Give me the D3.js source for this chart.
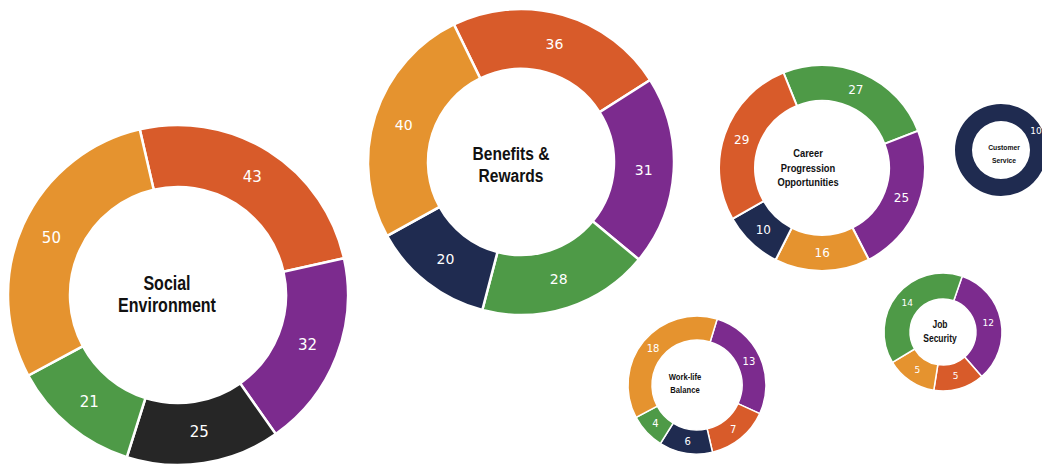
<!DOCTYPE html>
<html>
<head>
<meta charset="utf-8">
<script src="https://cdn.jsdelivr.net/npm/d3@7"></script>
<style>
  html, body { margin: 0; padding: 0; background: #ffffff; }
  svg { display: block; }
  .title { font-family: "Liberation Sans", Arial, sans-serif; font-weight: bold; fill: #111; }
  .value { font-family: "DejaVu Sans", "Open Sans", sans-serif; fill: #ffffff; }
</style>
</head>
<body>
<svg id="chart" width="1042" height="465"></svg>
<script>
// Segment colour keys, shared by every ring
const groups = ["orange", "red", "purple", "black", "green", "navy"];
const groupColors = ["#E5932F", "#D85B2A", "#7C2B8E", "#262626", "#4E9A47", "#1F2B50"];

// Theme titles (one ring per theme)
const themes = ["Social Environment", "Benefits & Rewards", "Career Progression Opportunities",
                "Customer Service", "Work-life Balance", "Job Security"];
const themeLines = [["Social", "Environment"], ["Benefits &", "Rewards"], ["Career", "Progression", "Opportunities"],
                    ["Customer", "Service"], ["Work-life", "Balance"], ["Job", "Security"]];

// Mention counts per theme, clockwise
const socialKeys     = ["red", "purple", "black", "green", "orange"];
const socialValues   = [43, 32, 25, 21, 50];
const benefitsKeys   = ["red", "purple", "green", "navy", "orange"];
const benefitsValues = [36, 31, 28, 20, 40];
const careerKeys     = ["green", "purple", "orange", "navy", "red"];
const careerValues   = [27, 25, 16, 10, 29];
const customerKeys   = ["navy"];
const customerValues = [10];
const workKeys       = ["purple", "red", "navy", "green", "orange"];
const workValues     = [13, 7, 6, 4, 18];
const jobKeys        = ["purple", "red", "orange", "green"];
const jobValues      = [12, 5, 5, 14];

const color = d3.scaleOrdinal().domain(groups).range(groupColors);
const svg = d3.select("#chart");
const deg = Math.PI / 180;

// Ring placement and styling
const rings = [
  { keys: socialKeys,   values: socialValues,   cx: 178,  cy: 295, R: 170, r: 108, start: -13, title: 20, tLead: 22,  tdx: -11, tdy: -1, sx: 0.8,  val: 15, sw: 2.5 },
  { keys: benefitsKeys, values: benefitsValues, cx: 521,  cy: 162, R: 153, r: 93,  start: -26, title: 19, tLead: 22,  tdx: -10, tdy: 2,  sx: 0.82, val: 14, sw: 2.5 },
  { keys: careerKeys,   values: careerValues,   cx: 822,  cy: 168, R: 103, r: 67,  start: -22, title: 11, tLead: 14.5,tdx: -14, tdy: 0,  sx: 0.85, val: 12, sw: 2 },
  { keys: customerKeys, values: customerValues, cx: 1001, cy: 150, R: 46,  r: 29,  start: 0,   title: 8,  tLead: 12.5,tdx: 3,   tdy: 4,  sx: 0.85, val: 9,  sw: 0, labelAngle: 62 },
  { keys: workKeys,     values: workValues,     cx: 697,  cy: 385, R: 69,  r: 45,  start: 17,  title: 9,  tLead: 13,  tdx: -12, tdy: -2, sx: 0.85, val: 10, sw: 1.5 },
  { keys: jobKeys,      values: jobValues,      cx: 943,  cy: 332, R: 59,  r: 33,  start: 19,  title: 10, tLead: 14,  tdx: -3,  tdy: 0,  sx: 0.85, val: 9,  sw: 1.5 }
];

rings.forEach((ring, i) => {
  const data = ring.values.map((v, j) => ({ key: ring.keys[j], value: v }));
  const s = ring.start * deg;
  const pie = d3.pie().sort(null).value(d => d.value).startAngle(s).endAngle(s + 2 * Math.PI);
  const arc = d3.arc().innerRadius(ring.r).outerRadius(ring.R);
  const g = svg.append("g")
    .attr("transform", `translate(${ring.cx},${ring.cy})`)
    .attr("aria-label", themes[i]);

  const arcs = pie(data);
  g.selectAll("path.slice").data(arcs).join("path")
    .attr("class", "slice")
    .attr("d", arc)
    .attr("fill", d => color(d.data.key))
    .attr("stroke", "#ffffff")
    .attr("stroke-width", ring.sw);

  g.selectAll("text.value").data(arcs).join("text")
    .attr("class", "value")
    .attr("transform", d => {
      let c;
      if (ring.labelAngle !== undefined) {
        const a = ring.labelAngle * deg, m = (ring.R + ring.r) / 2 + 2;
        c = [Math.sin(a) * m, -Math.cos(a) * m];
      } else {
        c = arc.centroid(d);
      }
      return `translate(${c[0]},${c[1]})`;
    })
    .attr("text-anchor", "middle")
    .attr("dominant-baseline", "central")
    .style("font-size", ring.val + "px")
    .text(d => d.data.value);

  // Centre title, narrowed horizontally for a condensed look
  const lines = themeLines[i];
  const t = g.append("g")
    .attr("transform", `translate(${ring.tdx},${ring.tdy}) scale(${ring.sx},1)`)
    .append("text")
    .attr("class", "title")
    .attr("text-anchor", "middle")
    .style("font-size", ring.title + "px");
  lines.forEach((ln, k) => {
    t.append("tspan")
      .attr("x", 0)
      .attr("y", (k - (lines.length - 1) / 2) * ring.tLead)
      .attr("dominant-baseline", "central")
      .text(ln);
  });
});
</script>
</body>
</html>
